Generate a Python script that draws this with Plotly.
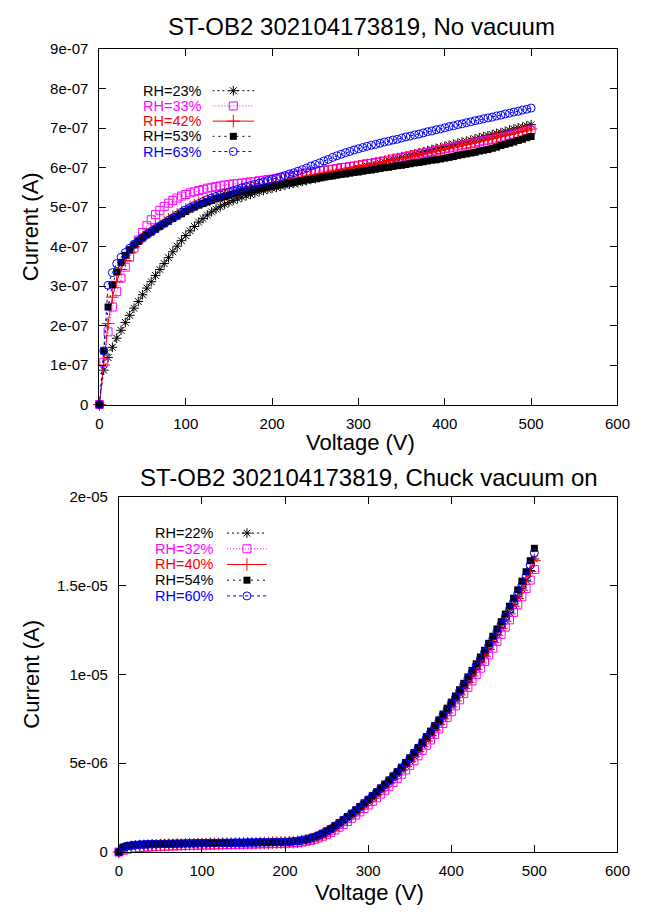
import plotly.graph_objects as go

W, H = 648, 916

# ---------------- data ----------------
voltage = list(range(0, 505, 5))

# Top chart: "No vacuum"   (values in units of 1e-7 A)
top_labels = ["RH=23%", "RH=33%", "RH=42%", "RH=53%", "RH=63%"]
top_rh23 = [0, 0.87, 1.19, 1.45, 1.68, 1.88, 2.08, 2.26, 2.44, 2.61,
            2.78, 2.95, 3.11, 3.27, 3.42, 3.57, 3.72, 3.87, 4.01, 4.15,
            4.28, 4.40, 4.51, 4.62, 4.71, 4.80, 4.88, 4.95, 5.01, 5.07,
            5.12, 5.17, 5.21, 5.25, 5.29, 5.32, 5.36, 5.39, 5.42, 5.45,
            5.48, 5.50, 5.53, 5.55, 5.58, 5.60, 5.62, 5.65, 5.67, 5.70,
            5.72, 5.75, 5.77, 5.80, 5.82, 5.85, 5.88, 5.90, 5.93, 5.95,
            5.98, 6.01, 6.04, 6.07, 6.09, 6.12, 6.15, 6.18, 6.21, 6.23,
            6.26, 6.29, 6.32, 6.35, 6.37, 6.40, 6.43, 6.46, 6.49, 6.51,
            6.54, 6.57, 6.59, 6.62, 6.65, 6.67, 6.70, 6.73, 6.76, 6.78,
            6.81, 6.84, 6.87, 6.89, 6.92, 6.95, 6.98, 7.01, 7.03, 7.06,
            7.09]
top_rh33 = [0, 1.07, 1.84, 2.47, 2.86, 3.20, 3.48, 3.73, 3.96, 4.17,
            4.36, 4.53, 4.68, 4.81, 4.92, 5.02, 5.10, 5.17, 5.23, 5.28,
            5.32, 5.36, 5.39, 5.42, 5.45, 5.48, 5.50, 5.52, 5.54, 5.56,
            5.57, 5.59, 5.60, 5.61, 5.62, 5.64, 5.65, 5.67, 5.68, 5.70,
            5.71, 5.73, 5.75, 5.76, 5.78, 5.80, 5.82, 5.84, 5.86, 5.88,
            5.90, 5.92, 5.93, 5.95, 5.96, 5.98, 6.00, 6.01, 6.03, 6.04,
            6.06, 6.08, 6.10, 6.11, 6.13, 6.15, 6.17, 6.19, 6.22, 6.24,
            6.26, 6.28, 6.30, 6.33, 6.35, 6.37, 6.39, 6.41, 6.44, 6.46,
            6.48, 6.50, 6.52, 6.55, 6.57, 6.59, 6.61, 6.63, 6.66, 6.68,
            6.70, 6.72, 6.75, 6.77, 6.80, 6.82, 6.85, 6.87, 6.90, 6.92,
            6.95]
top_rh42 = [0, 1.00, 2.05, 2.72, 3.12, 3.42, 3.65, 3.84, 4.00, 4.12,
            4.23, 4.32, 4.40, 4.48, 4.55, 4.62, 4.69, 4.76, 4.82, 4.88,
            4.94, 5.00, 5.05, 5.10, 5.14, 5.18, 5.22, 5.26, 5.29, 5.32,
            5.35, 5.38, 5.41, 5.44, 5.46, 5.49, 5.51, 5.54, 5.56, 5.58,
            5.60, 5.62, 5.65, 5.67, 5.70, 5.72, 5.74, 5.76, 5.79, 5.81,
            5.83, 5.85, 5.87, 5.89, 5.91, 5.93, 5.95, 5.97, 5.99, 6.01,
            6.03, 6.05, 6.07, 6.09, 6.11, 6.13, 6.15, 6.18, 6.20, 6.22,
            6.24, 6.26, 6.28, 6.31, 6.33, 6.35, 6.37, 6.40, 6.42, 6.45,
            6.47, 6.49, 6.52, 6.54, 6.57, 6.59, 6.61, 6.64, 6.66, 6.69,
            6.71, 6.74, 6.76, 6.79, 6.82, 6.84, 6.87, 6.90, 6.92, 6.95,
            6.98]
top_rh53 = [0, 1.36, 2.47, 3.03, 3.36, 3.60, 3.78, 3.92, 4.04, 4.13,
            4.22, 4.30, 4.37, 4.44, 4.51, 4.58, 4.64, 4.71, 4.77, 4.83,
            4.89, 4.95, 5.00, 5.05, 5.09, 5.13, 5.17, 5.21, 5.24, 5.27,
            5.30, 5.33, 5.36, 5.39, 5.41, 5.43, 5.45, 5.47, 5.49, 5.51,
            5.53, 5.55, 5.57, 5.59, 5.61, 5.63, 5.65, 5.67, 5.69, 5.70,
            5.72, 5.74, 5.76, 5.78, 5.79, 5.81, 5.83, 5.84, 5.86, 5.88,
            5.89, 5.91, 5.93, 5.94, 5.96, 5.98, 6.00, 6.01, 6.03, 6.05,
            6.06, 6.08, 6.10, 6.12, 6.13, 6.15, 6.17, 6.19, 6.20, 6.22,
            6.24, 6.26, 6.28, 6.31, 6.33, 6.35, 6.37, 6.39, 6.42, 6.44,
            6.46, 6.49, 6.52, 6.56, 6.59, 6.62, 6.65, 6.69, 6.72, 6.76,
            6.79]
top_rh63 = [0, 1.36, 3.02, 3.34, 3.57, 3.73, 3.85, 3.96, 4.06, 4.15,
            4.23, 4.31, 4.38, 4.45, 4.52, 4.59, 4.66, 4.73, 4.80, 4.87,
            4.93, 4.99, 5.04, 5.09, 5.14, 5.19, 5.23, 5.27, 5.31, 5.35,
            5.38, 5.42, 5.45, 5.49, 5.52, 5.55, 5.58, 5.61, 5.64, 5.67,
            5.70, 5.73, 5.77, 5.80, 5.84, 5.87, 5.91, 5.95, 5.99, 6.04,
            6.08, 6.12, 6.17, 6.21, 6.26, 6.30, 6.34, 6.38, 6.41, 6.45,
            6.48, 6.51, 6.54, 6.57, 6.59, 6.62, 6.65, 6.67, 6.70, 6.72,
            6.75, 6.78, 6.80, 6.83, 6.85, 6.88, 6.91, 6.93, 6.96, 6.98,
            7.01, 7.04, 7.06, 7.09, 7.11, 7.14, 7.16, 7.19, 7.21, 7.24,
            7.26, 7.28, 7.31, 7.33, 7.36, 7.38, 7.41, 7.43, 7.46, 7.48,
            7.51]

# Bottom chart: "Chuck vacuum on"   (values in units of 1e-6 A)
bot_labels = ["RH=22%", "RH=32%", "RH=40%", "RH=54%", "RH=60%"]
bot_rh22 = [0, 0.20, 0.27, 0.31, 0.34, 0.36, 0.37, 0.38, 0.39, 0.40,
            0.41, 0.41, 0.42, 0.42, 0.43, 0.43, 0.44, 0.44, 0.45, 0.45,
            0.46, 0.46, 0.46, 0.47, 0.47, 0.47, 0.48, 0.48, 0.48, 0.49,
            0.49, 0.49, 0.50, 0.50, 0.50, 0.51, 0.51, 0.52, 0.52, 0.53,
            0.54, 0.55, 0.57, 0.59, 0.63, 0.67, 0.73, 0.80, 0.88, 0.99,
            1.11, 1.25, 1.40, 1.56, 1.73, 1.90, 2.08, 2.27, 2.46, 2.65,
            2.85, 3.06, 3.27, 3.48, 3.70, 3.92, 4.15, 4.39, 4.63, 4.88,
            5.14, 5.42, 5.71, 6.01, 6.31, 6.61, 6.92, 7.24, 7.56, 7.89,
            8.23, 8.57, 8.92, 9.27, 9.62, 9.98, 10.35, 10.72, 11.10, 11.48,
            11.86, 12.26, 12.66, 13.07, 13.49, 13.92, 14.36, 14.82, 15.30, 15.85,
            16.50]
bot_rh32 = [0, 0.10, 0.16, 0.20, 0.23, 0.25, 0.27, 0.28, 0.30, 0.31,
            0.32, 0.33, 0.34, 0.35, 0.36, 0.36, 0.37, 0.38, 0.38, 0.39,
            0.39, 0.40, 0.40, 0.41, 0.41, 0.42, 0.42, 0.43, 0.43, 0.44,
            0.44, 0.45, 0.45, 0.46, 0.46, 0.47, 0.47, 0.48, 0.48, 0.49,
            0.50, 0.51, 0.52, 0.54, 0.57, 0.61, 0.66, 0.72, 0.80, 0.89,
            1.00, 1.11, 1.24, 1.40, 1.56, 1.72, 1.90, 2.08, 2.26, 2.45,
            2.65, 2.85, 3.06, 3.27, 3.48, 3.70, 3.92, 4.15, 4.38, 4.62,
            4.88, 5.14, 5.42, 5.71, 6.01, 6.31, 6.62, 6.93, 7.24, 7.57,
            7.90, 8.23, 8.57, 8.92, 9.27, 9.63, 9.99, 10.35, 10.72, 11.10,
            11.48, 11.86, 12.26, 12.66, 13.07, 13.49, 13.92, 14.37, 14.83, 15.31,
            15.90]
bot_rh40 = [0, 0.18, 0.25, 0.29, 0.32, 0.34, 0.35, 0.36, 0.38, 0.38,
            0.39, 0.40, 0.41, 0.41, 0.42, 0.42, 0.43, 0.44, 0.44, 0.45,
            0.45, 0.45, 0.46, 0.46, 0.46, 0.47, 0.47, 0.48, 0.48, 0.49,
            0.49, 0.50, 0.50, 0.50, 0.51, 0.51, 0.51, 0.52, 0.52, 0.53,
            0.54, 0.55, 0.56, 0.58, 0.62, 0.66, 0.71, 0.78, 0.86, 0.97,
            1.09, 1.22, 1.36, 1.52, 1.69, 1.86, 2.04, 2.22, 2.41, 2.61,
            2.81, 3.01, 3.22, 3.44, 3.66, 3.88, 4.11, 4.34, 4.58, 4.82,
            5.09, 5.37, 5.66, 5.95, 6.25, 6.56, 6.86, 7.18, 7.50, 7.83,
            8.17, 8.50, 8.85, 9.20, 9.55, 9.91, 10.28, 10.65, 11.02, 11.40,
            11.79, 12.18, 12.58, 12.99, 13.41, 13.84, 14.28, 14.74, 15.22, 15.79,
            16.40]
bot_rh54 = [0, 0.28, 0.35, 0.38, 0.41, 0.42, 0.43, 0.44, 0.45, 0.45,
            0.46, 0.46, 0.47, 0.47, 0.48, 0.48, 0.48, 0.49, 0.49, 0.49,
            0.50, 0.50, 0.50, 0.51, 0.51, 0.51, 0.52, 0.52, 0.52, 0.53,
            0.53, 0.53, 0.54, 0.54, 0.54, 0.55, 0.55, 0.55, 0.56, 0.56,
            0.57, 0.58, 0.60, 0.63, 0.67, 0.72, 0.78, 0.86, 0.95, 1.06,
            1.19, 1.33, 1.49, 1.65, 1.82, 2.00, 2.19, 2.38, 2.57, 2.77,
            2.97, 3.18, 3.39, 3.61, 3.83, 4.06, 4.29, 4.53, 4.78, 5.04,
            5.31, 5.60, 5.89, 6.19, 6.50, 6.81, 7.12, 7.44, 7.77, 8.10,
            8.44, 8.79, 9.14, 9.50, 9.86, 10.23, 10.60, 10.98, 11.36, 11.75,
            12.15, 12.56, 12.97, 13.40, 13.84, 14.29, 14.76, 15.25, 15.78, 16.40,
            17.10]
bot_rh60 = [0, 0.25, 0.33, 0.37, 0.40, 0.42, 0.43, 0.44, 0.45, 0.45,
            0.46, 0.46, 0.47, 0.47, 0.48, 0.48, 0.49, 0.49, 0.49, 0.50,
            0.50, 0.50, 0.51, 0.51, 0.51, 0.52, 0.52, 0.52, 0.53, 0.53,
            0.53, 0.54, 0.54, 0.54, 0.55, 0.55, 0.55, 0.56, 0.56, 0.57,
            0.57, 0.58, 0.60, 0.62, 0.66, 0.70, 0.76, 0.83, 0.92, 1.03,
            1.16, 1.30, 1.46, 1.62, 1.79, 1.97, 2.15, 2.34, 2.53, 2.73,
            2.93, 3.14, 3.35, 3.57, 3.79, 4.01, 4.24, 4.48, 4.72, 4.98,
            5.25, 5.54, 5.83, 6.13, 6.43, 6.74, 7.05, 7.37, 7.70, 8.03,
            8.37, 8.71, 9.06, 9.41, 9.77, 10.13, 10.50, 10.87, 11.25, 11.63,
            12.02, 12.42, 12.82, 13.24, 13.66, 14.10, 14.55, 15.02, 15.55, 16.15,
            16.85]

x_ticks = [0, 100, 200, 300, 400, 500, 600]
top_ytick_vals = [0, 1e-7, 2e-7, 3e-7, 4e-7, 5e-7, 6e-7, 7e-7, 8e-7, 9e-7]
top_ytick_text = ["0", "1e-07", "2e-07", "3e-07", "4e-07", "5e-07", "6e-07", "7e-07", "8e-07", "9e-07"]
bot_ytick_vals = [0, 5e-6, 1e-5, 1.5e-5, 2e-5]
bot_ytick_text = ["0", "5e-06", "1e-05", "1.5e-05", "2e-05"]

top_title = "ST-OB2 302104173819, No vacuum"
bot_title = "ST-OB2 302104173819, Chuck vacuum on"

# ---------------- styles ----------------
FONT = "Liberation Sans, Arial, sans-serif"
styles = [
    dict(color="#000000", symbol="asterisk-open", size=8, dash="2px,3px", lw=1),
    dict(color="#ff00ff", symbol="square-open", size=8, dash="1px,2px", lw=1),
    dict(color="#ff0000", symbol="cross-thin-open", size=9, dash="solid", lw=1),
    dict(color="#000000", symbol="square", size=7, dash="2px,4px", lw=0),
    dict(color="#0000ff", symbol="circle-open", size=8, dash="3px,3px", lw=1),
]


def px_x(p):
    return p / W


def px_y(p):
    return 1 - p / H


fig = go.Figure()

top_series = [top_rh23, top_rh33, top_rh42, top_rh53, top_rh63]
bot_series = [bot_rh22, bot_rh32, bot_rh40, bot_rh54, bot_rh60]


def marker_of(st):
    return dict(symbol=st["symbol"], size=st["size"], color=st["color"],
                line=dict(color=st["color"], width=st["lw"]))


for vals, st, lab in zip(top_series, styles, top_labels):
    fig.add_trace(go.Scatter(
        x=voltage, y=[v * 1e-7 for v in vals], mode="lines+markers", name=lab,
        line=dict(color=st["color"], width=1, dash=st["dash"]),
        marker=marker_of(st), xaxis="x", yaxis="y", cliponaxis=False,
        showlegend=False))

for vals, st, lab in zip(bot_series, styles, bot_labels):
    fig.add_trace(go.Scatter(
        x=voltage, y=[v * 1e-6 for v in vals], mode="lines+markers", name=lab,
        line=dict(color=st["color"], width=1, dash=st["dash"]),
        marker=marker_of(st), xaxis="x2", yaxis="y2", cliponaxis=False,
        showlegend=False))

# legend keys (gnuplot style: text on the left, sample on the right)
annotations = []
for (xa, ya, labels, text_right) in [("x3", "y3", top_labels, 205), ("x4", "y4", bot_labels, 218)]:
    for i, (st, lab) in enumerate(zip(styles, labels)):
        row = 4.5 - i
        fig.add_trace(go.Scatter(
            x=[0, 1], y=[row, row], mode="lines",
            line=dict(color=st["color"], width=1, dash=st["dash"]),
            xaxis=xa, yaxis=ya, showlegend=False, hoverinfo="skip", cliponaxis=False))
        fig.add_trace(go.Scatter(
            x=[0.5], y=[row], mode="markers", marker=marker_of(st),
            xaxis=xa, yaxis=ya, showlegend=False, hoverinfo="skip", cliponaxis=False))
        annotations.append(dict(
            text=lab, x=px_x(text_right), xref="paper", xanchor="right",
            y=row, yref=ya, yanchor="middle", showarrow=False,
            font=dict(family=FONT, size=14.5, color=st["color"])))

# titles
annotations += [
    dict(text=top_title, x=px_x(367), y=px_y(18), xref="paper", yref="paper",
         xanchor="center", yanchor="middle", showarrow=False,
         font=dict(family=FONT, size=24, color="#000")),
    dict(text=bot_title, x=px_x(375), y=px_y(477), xref="paper", yref="paper",
         xanchor="center", yanchor="middle", showarrow=False,
         font=dict(family=FONT, size=24, color="#000")),
    dict(text="Voltage (V)", x=px_x(366), y=px_y(442), xref="paper", yref="paper",
         xanchor="center", yanchor="middle", showarrow=False,
         font=dict(family=FONT, size=22, color="#000")),
    dict(text="Voltage (V)", x=px_x(375), y=px_y(900), xref="paper", yref="paper",
         xanchor="center", yanchor="middle", showarrow=False,
         font=dict(family=FONT, size=22, color="#000")),
    dict(text="Current (A)", x=px_x(28), y=px_y(222), xref="paper", yref="paper",
         xanchor="center", yanchor="middle", showarrow=False, textangle=-90,
         font=dict(family=FONT, size=22, color="#000")),
    dict(text="Current (A)", x=px_x(28), y=px_y(678), xref="paper", yref="paper",
         xanchor="center", yanchor="middle", showarrow=False, textangle=-90,
         font=dict(family=FONT, size=22, color="#000")),
]

axis_common = dict(showline=True, linecolor="#000", linewidth=1, mirror="ticks",
                   ticks="inside", ticklen=7, tickwidth=1, tickcolor="#000",
                   showgrid=False, zeroline=False,
                   tickfont=dict(family=FONT, size=15, color="#000"))

fig.update_layout(
    width=W, height=H, autosize=False,
    margin=dict(l=0, r=0, t=0, b=0),
    paper_bgcolor="white", plot_bgcolor="white",
    showlegend=False,
    xaxis=dict(domain=[px_x(98), px_x(630)], anchor="y", range=[0, 600],
               tickvals=x_ticks, ticklabelstandoff=5, **axis_common),
    yaxis=dict(domain=[px_y(403), px_y(41)], anchor="x", range=[0, 9e-7],
               tickvals=top_ytick_vals, ticktext=top_ytick_text,
               ticklabelstandoff=7, **axis_common),
    xaxis2=dict(domain=[px_x(118), px_x(630)], anchor="y2", range=[0, 600],
                tickvals=x_ticks, ticklabelstandoff=5, **axis_common),
    yaxis2=dict(domain=[px_y(859), px_y(497)], anchor="x2", range=[0, 2e-5],
                tickvals=bot_ytick_vals, ticktext=bot_ytick_text,
                ticklabelstandoff=7, **axis_common),
    xaxis3=dict(domain=[px_x(214), px_x(257)], anchor="y3", range=[0, 1],
                visible=False, fixedrange=True),
    yaxis3=dict(domain=[px_y(153), px_y(75.5)], anchor="x3", range=[0, 5],
                visible=False, fixedrange=True),
    xaxis4=dict(domain=[px_x(229), px_x(270)], anchor="y4", range=[0, 1],
                visible=False, fixedrange=True),
    yaxis4=dict(domain=[px_y(606), px_y(526)], anchor="x4", range=[0, 5],
                visible=False, fixedrange=True),
    annotations=annotations,
)

fig.write_html("out.html")
